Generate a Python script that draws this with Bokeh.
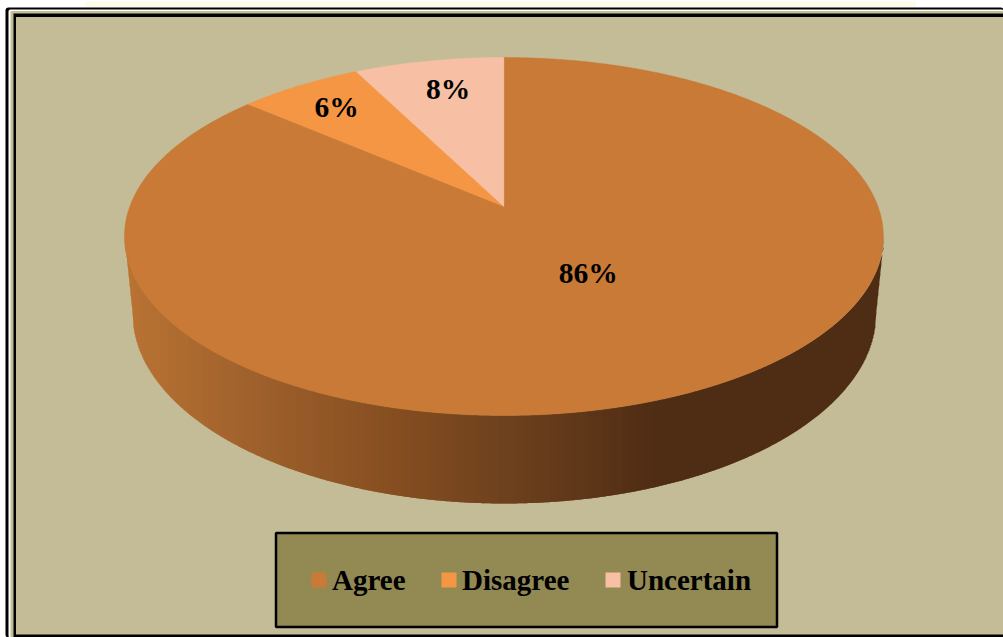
import numpy as np
from bokeh.plotting import figure
from bokeh.models import Range1d
from bokeh.core.properties import value
from bokeh.embed import file_html
from bokeh.resources import INLINE

# ---- data ----
categories = ["Agree", "Disagree", "Uncertain"]
shares = [86.3, 6.2, 7.5]
labels = ["86%", "6%", "8%"]

# ---- style ----
colors = ["#C87A36", "#F59645", "#F7BFA3"]
PANEL = "#C4BC96"
LEGEND = "#938953"
FONT = "Liberation Serif"
W, H = 1003, 637

# pie projection (perspective view of a flat disc)
CX, APEX_Y, A, B, K = 503.4, 206.0, 374.1, 174.0, 0.1676
TOP_CY, TOP_RX, TOP_RY = 236.0, 379.5, 179.0
BOT_CY, BOT_RX, BOT_RY = 313.0, 371.5, 190.0

def proj(frac, r=1.0):
    t = 2 * np.pi * np.asarray(frac, dtype=float)
    X, Y = r * np.sin(t), r * np.cos(t)
    w = 1 + K * Y
    return CX + A * X / w, APEX_Y - B * Y / w

p = figure(width=W, height=H, output_backend="svg", toolbar_location=None,
           x_range=Range1d(0, W), y_range=Range1d(H, 0), min_border=0,
           background_fill_color="white",
           border_fill_color="white", outline_line_color=None)
p.axis.visible = False
p.grid.visible = False

def box(x0, x1, y0, y1, color, **kw):
    p.quad(left=[x0], right=[x1], top=[y0], bottom=[y1], fill_color=color,
           line_color=kw.pop("line_color", None), **kw)

# faint page tint and frame
box(85, 915, 0, 7, "#FDFCEC")
box(5, W, 7, H, "black", border_radius=3)
box(8, W, 9, H, "white", border_radius=2)
box(10, W, 10.5, H, PANEL)
box(13, W, 13, H, "black")
box(15.5, W, 16.5, 634, PANEL)

# side wall: vertical strips with the shading from light (left) to dark (right)
stop_x = [124, 250, 385, 507, 600, 658, 884]
stop_c = [(0xBA, 0x74, 0x33), (0xA0, 0x62, 0x2E), (0x88, 0x50, 0x22),
          (0x6E, 0x42, 0x1E), (0x5C, 0x35, 0x19), (0x4F, 0x2D, 0x14), (0x4F, 0x2D, 0x14)]

def wall_top(x):
    return TOP_CY + TOP_RY * np.sqrt(np.clip(1 - ((x - CX) / TOP_RX) ** 2, 0, 1))

def wall_bot(x):
    d = np.abs(x - CX)
    inner = BOT_CY + BOT_RY * np.sqrt(np.clip(1 - (d / BOT_RX) ** 2, 0, 1))
    outer = TOP_CY + (BOT_CY - TOP_CY) * (TOP_RX - d) / (TOP_RX - BOT_RX)
    return np.where(d <= BOT_RX, inner, outer)

sil = np.arange(CX - TOP_RX, CX + TOP_RX + 0.1, 1.0)
rgb = [np.interp(sil, stop_x, [c[i] for c in stop_c]) for i in range(3)]
cols = ["#%02X%02X%02X" % (int(r), int(g), int(b)) for r, g, b in zip(*rgb)]
# each vertical strip overlaps the next, so no seams show
xs = [[x, x + 2, x + 2, x] for x in sil[:-1]]
ys = [[wall_top(x), wall_top(x + 1), wall_bot(x + 1), wall_bot(x)] for x in sil[:-1]]
p.patches(xs, ys, fill_color=cols[:-1], line_color=None)

# top face slices, clockwise from twelve o'clock
cum = np.concatenate([[0], np.cumsum(shares)]) / np.sum(shares)
for i in range(len(shares)):
    f = np.linspace(cum[i], cum[i + 1], max(8, int(shares[i] * 8)))
    ax, ay = proj(f)
    p.patch([CX] + list(ax), [APEX_Y] + list(ay), fill_color=colors[i],
            line_color=colors[i], line_width=0.4)

# percentage labels placed along the slice middles
mids = (cum[:-1] + cum[1:]) / 2
radii = [0.45, 0.75, 0.75]
nudge_x = [9, -9.5, 2.5]
nudge_y = [-10, -6, -4]
lx, ly = zip(*[proj(m, r) for m, r in zip(mids, radii)])
p.text(x=[a + b for a, b in zip(lx, nudge_x)], y=[a + b for a, b in zip(ly, nudge_y)],
       text=labels, text_font=value(FONT), text_font_style="bold",
       text_font_size="29.5px", text_color="black", text_align="center",
       text_baseline="middle")

# legend
box(275.5, 776.5, 532.5, 626.5, LEGEND, line_color="black", line_width=2.5)
swatch_x = [311, 441, 605]
text_x = [331.5, 461.5, 626.5]
p.quad(left=swatch_x, right=[x + 15 for x in swatch_x], top=[572] * 3, bottom=[587] * 3,
       fill_color=colors, line_color=None)
p.text(x=text_x, y=[579] * 3, text=categories, text_font=value(FONT),
       text_font_style="bold", text_font_size="29px", text_color="black",
       text_align="left", text_baseline="middle")

open("out.html", "w").write(file_html(p, INLINE))
